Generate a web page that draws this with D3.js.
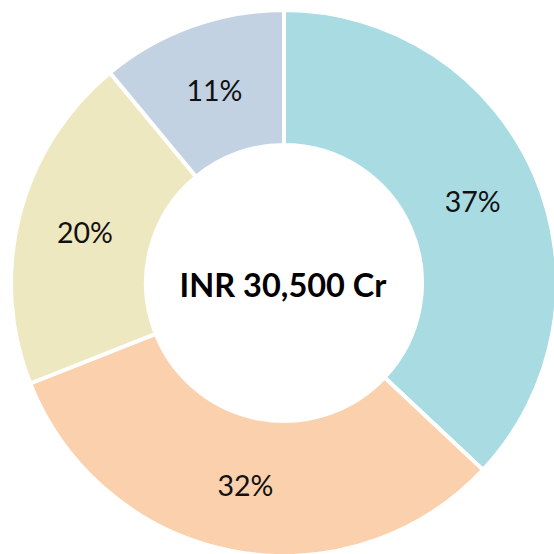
<!DOCTYPE html>
<html>
<head>
<meta charset="utf-8">
<script src="https://cdn.jsdelivr.net/npm/d3@7"></script>
<style>
  html, body { margin: 0; padding: 0; background: #ffffff; }
  svg { display: block; }
</style>
</head>
<body>
<svg id="chart" width="554" height="554"></svg>
<script>
// Share of the total, in percent, clockwise from 12 o'clock
const segments = ["Segment A", "Segment B", "Segment C", "Segment D"];
const shares = [37, 32, 20, 11];
const colors = ["#A9DBE2", "#FBD0AC", "#EEE8C1", "#C2D2E2"];
const centerLabel = "INR 30,500 Cr";

const width = 554, height = 554;
const cx = 284, cy = 283;
const outerR = 273, innerR = 138;

const svg = d3.select("#chart");
const g = svg.append("g").attr("transform", `translate(${cx},${cy})`);

const data = segments.map((name, i) => ({ name, value: shares[i], color: colors[i] }));

const pie = d3.pie().value(d => d.value).sort(null);
const arc = d3.arc().innerRadius(innerR).outerRadius(outerR);

const arcs = pie(data);

g.selectAll("path.slice")
  .data(arcs)
  .join("path")
  .attr("class", "slice")
  .attr("d", arc)
  .attr("fill", d => d.data.color)
  .attr("stroke", "#ffffff")
  .attr("stroke-width", 4)
  .attr("stroke-linejoin", "miter");

g.selectAll("text.pct")
  .data(arcs)
  .join("text")
  .attr("class", "pct")
  .attr("transform", d => `translate(${arc.centroid(d)})`)
  .attr("text-anchor", "middle")
  .attr("dominant-baseline", "central")
  .attr("font-family", "Lato, 'Open Sans', sans-serif")
  .attr("font-size", 28.5)
  .attr("fill", "#111111")
  .text(d => d.data.value + "%");

g.append("text")
  .attr("text-anchor", "middle")
  .attr("dominant-baseline", "central")
  .attr("y", 1)
  .attr("x", -1)
  .attr("font-family", "Lato, 'Open Sans', sans-serif")
  .attr("font-weight", "bold")
  .attr("font-size", 32.5)
  .attr("fill", "#000000")
  .text(centerLabel);
</script>
</body>
</html>
